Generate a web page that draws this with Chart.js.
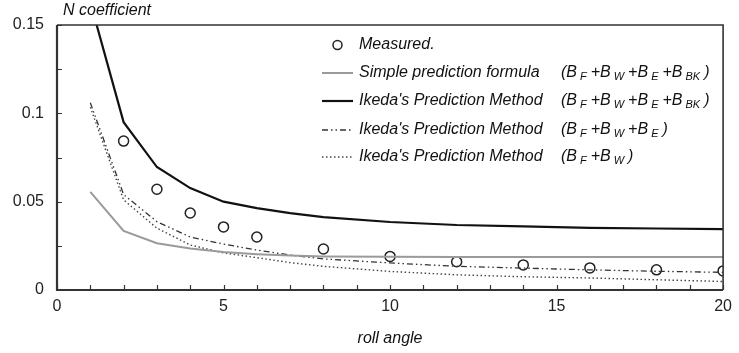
<!DOCTYPE html>
<html>
<head>
<meta charset="utf-8">
<script src="https://cdn.jsdelivr.net/npm/chart.js@4"></script>
<style>
html,body{margin:0;padding:0;background:#fff;}
#wrap{width:739px;height:353px;}
</style>
</head>
<body>
<div id="wrap"><canvas id="c" width="739" height="353"></canvas></div>
<script>
// ---- data ----
const rollAngles = [1, 2, 3, 4, 5, 6, 7, 8, 10, 12, 14, 16, 18, 20];
const simpleFormula = [0.0555, 0.0334, 0.0265, 0.0235, 0.0215, 0.0203, 0.0195, 0.019, 0.0188, 0.0187, 0.0187, 0.0187, 0.0187, 0.0187];
const ikedaFull = [0.163, 0.095, 0.0696, 0.0577, 0.0500, 0.0463, 0.0435, 0.0413, 0.0385, 0.0368, 0.0360, 0.0352, 0.0348, 0.0345];
const ikedaFWE = [0.106, 0.054, 0.0387, 0.030, 0.026, 0.0226, 0.0198, 0.0176, 0.0153, 0.0134, 0.0124, 0.0114, 0.0106, 0.0100];
const ikedaFW = [0.1035, 0.051, 0.035, 0.0255, 0.021, 0.0183, 0.0155, 0.0134, 0.0105, 0.0086, 0.0075, 0.0068, 0.0058, 0.0048];
const measuredAngles = [2, 3, 4, 5, 6, 8, 10, 12, 14, 16, 18, 20];
const measuredValues = [0.0843, 0.057, 0.0436, 0.0357, 0.030, 0.0232, 0.019, 0.0160, 0.0142, 0.0125, 0.0114, 0.0108];
const xTickLabels = [0, 5, 10, 15, 20];
const yTickLabels = [0, 0.05, 0.1, 0.15];
const legendNames = ["Measured.", "Simple prediction formula", "Ikeda's Prediction Method", "Ikeda's Prediction Method", "Ikeda's Prediction Method"];
const legendFormulas = [
  null,
  [["B","F"],["B","W"],["B","E"],["B","BK"]],
  [["B","F"],["B","W"],["B","E"],["B","BK"]],
  [["B","F"],["B","W"],["B","E"]],
  [["B","F"],["B","W"]]
];
const yAxisTitle = "N coefficient";
const xAxisTitle = "roll angle";

const FONT = "'Liberation Sans', Arial, sans-serif";
const pts = (xs, ys) => xs.map((x, i) => ({x: x, y: ys[i]}));

const styles = [
  {color: '#222', width: 1.5, dash: []},
  {color: '#9a9a9a', width: 2, dash: []},
  {color: '#111', width: 2.2, dash: []},
  {color: '#333', width: 1.3, dash: [6, 3, 1.5, 3, 1.5, 3]},
  {color: '#444', width: 1.4, dash: [1.5, 2.5]}
];

const datasets = [
  {label: legendNames[1], data: pts(rollAngles, simpleFormula), borderColor: styles[1].color, borderWidth: styles[1].width, pointRadius: 0, tension: 0, fill: false},
  {label: legendNames[2], data: pts(rollAngles, ikedaFull), borderColor: styles[2].color, borderWidth: styles[2].width, pointRadius: 0, tension: 0, fill: false},
  {label: legendNames[3], data: pts(rollAngles, ikedaFWE), borderColor: styles[3].color, borderWidth: styles[3].width, borderDash: styles[3].dash, pointRadius: 0, tension: 0, fill: false},
  {label: legendNames[4], data: pts(rollAngles, ikedaFW), borderColor: styles[4].color, borderWidth: styles[4].width, borderDash: styles[4].dash, pointRadius: 0, tension: 0, fill: false},
  {label: legendNames[0], data: pts(measuredAngles, measuredValues), showLine: false, pointStyle: 'circle', pointRadius: 5, pointBorderWidth: 1.5, pointBorderColor: '#222', pointBackgroundColor: 'rgba(0,0,0,0)'}
];

const isLabelled = (v, list) => list.some(t => Math.abs(t - v) < 1e-9);

const decor = {
  id: 'decor',
  afterDatasetsDraw(chart) {
    const ctx = chart.ctx;
    const a = chart.chartArea;
    const xs = chart.scales.x, ys = chart.scales.y;
    ctx.save();
    // box
    ctx.strokeStyle = '#333';
    ctx.setLineDash([]);
    ctx.lineWidth = 1.6;
    ctx.beginPath();
    ctx.moveTo(a.left, a.top); ctx.lineTo(a.right, a.top); ctx.lineTo(a.right, a.bottom);
    ctx.stroke();
    ctx.lineWidth = 2.2;
    ctx.beginPath();
    ctx.moveTo(a.left, a.top); ctx.lineTo(a.left, a.bottom); ctx.lineTo(a.right, a.bottom);
    ctx.stroke();
    // inward ticks
    ctx.lineWidth = 1.2;
    ctx.beginPath();
    xs.ticks.forEach(t => {
      const px = Math.round(xs.getPixelForValue(t.value)) + 0.5;
      ctx.moveTo(px, a.bottom); ctx.lineTo(px, a.bottom - 5);
    });
    ys.ticks.forEach(t => {
      const py = Math.round(ys.getPixelForValue(t.value)) + 0.5;
      ctx.moveTo(a.left, py); ctx.lineTo(a.left + 5, py);
    });
    ctx.stroke();
    // y axis title at top
    ctx.fillStyle = '#111';
    ctx.font = 'italic 16px ' + FONT;
    ctx.textBaseline = 'middle';
    ctx.textAlign = 'left';
    ctx.fillText(yAxisTitle, a.left + 6, 11);
    // legend
    const rows = [45, 73, 101, 130, 157];
    const sx0 = 322, sx1 = 353, tx = 359, fx = 561;
    rows.forEach((ry, i) => {
      const s = styles[i];
      if (i === 0) {
        ctx.setLineDash([]);
        ctx.lineWidth = s.width; ctx.strokeStyle = s.color;
        ctx.beginPath(); ctx.arc((sx0 + sx1) / 2, ry, 4.5, 0, Math.PI * 2); ctx.stroke();
      } else {
        ctx.setLineDash(s.dash);
        ctx.lineWidth = s.width; ctx.strokeStyle = s.color;
        ctx.beginPath(); ctx.moveTo(sx0, ry); ctx.lineTo(sx1, ry); ctx.stroke();
      }
      ctx.setLineDash([]);
      ctx.fillStyle = '#111';
      ctx.font = 'italic 16px ' + FONT;
      ctx.textBaseline = 'middle';
      ctx.fillText(legendNames[i], tx, ry);
      const f = legendFormulas[i];
      if (f) {
        let x = fx;
        const big = 'italic 16px ' + FONT, small = 'italic 11px ' + FONT;
        f.forEach((p, k) => {
          ctx.font = big;
          const pre = (k === 0 ? '(' : '+') + p[0];
          ctx.fillText(pre, x, ry);
          x += ctx.measureText(pre).width + 3;
          ctx.font = small;
          ctx.fillText(p[1], x, ry + 4);
          x += ctx.measureText(p[1]).width + 4;
        });
        ctx.font = big;
        ctx.fillText(')', x, ry);
      }
    });
    ctx.restore();
  }
};

new Chart(document.getElementById('c'), {
  type: 'line',
  data: {datasets: datasets},
  plugins: [decor],
  options: {
    responsive: false,
    animation: false,
    devicePixelRatio: 1,
    layout: {padding: {top: 25, right: 11, left: 0, bottom: 0}},
    plugins: {legend: {display: false}, tooltip: {enabled: false}, title: {display: false}},
    scales: {
      x: {
        type: 'linear', min: 0, max: 20,
        afterFit: s => { s.height = 63; },
        grid: {display: false, drawTicks: false},
        border: {display: false},
        ticks: {
          stepSize: 1, autoSkip: false, maxRotation: 0, padding: 7,
          color: '#222', font: {family: FONT, size: 16},
          callback: v => isLabelled(v, xTickLabels) ? String(v) : ''
        },
        title: {display: true, text: xAxisTitle, color: '#111', font: {family: FONT, size: 16, style: 'italic'}, padding: {top: 0, bottom: 5}}
      },
      y: {
        min: 0, max: 0.15,
        afterFit: s => { s.width = 57; },
        grid: {display: false, drawTicks: false},
        border: {display: false},
        ticks: {
          stepSize: 0.025, autoSkip: false, padding: 13,
          color: '#222', font: {family: FONT, size: 16},
          callback: v => isLabelled(v, yTickLabels) ? String(+v.toFixed(3)) : ''
        }
      }
    }
  }
});
</script>
</body>
</html>
